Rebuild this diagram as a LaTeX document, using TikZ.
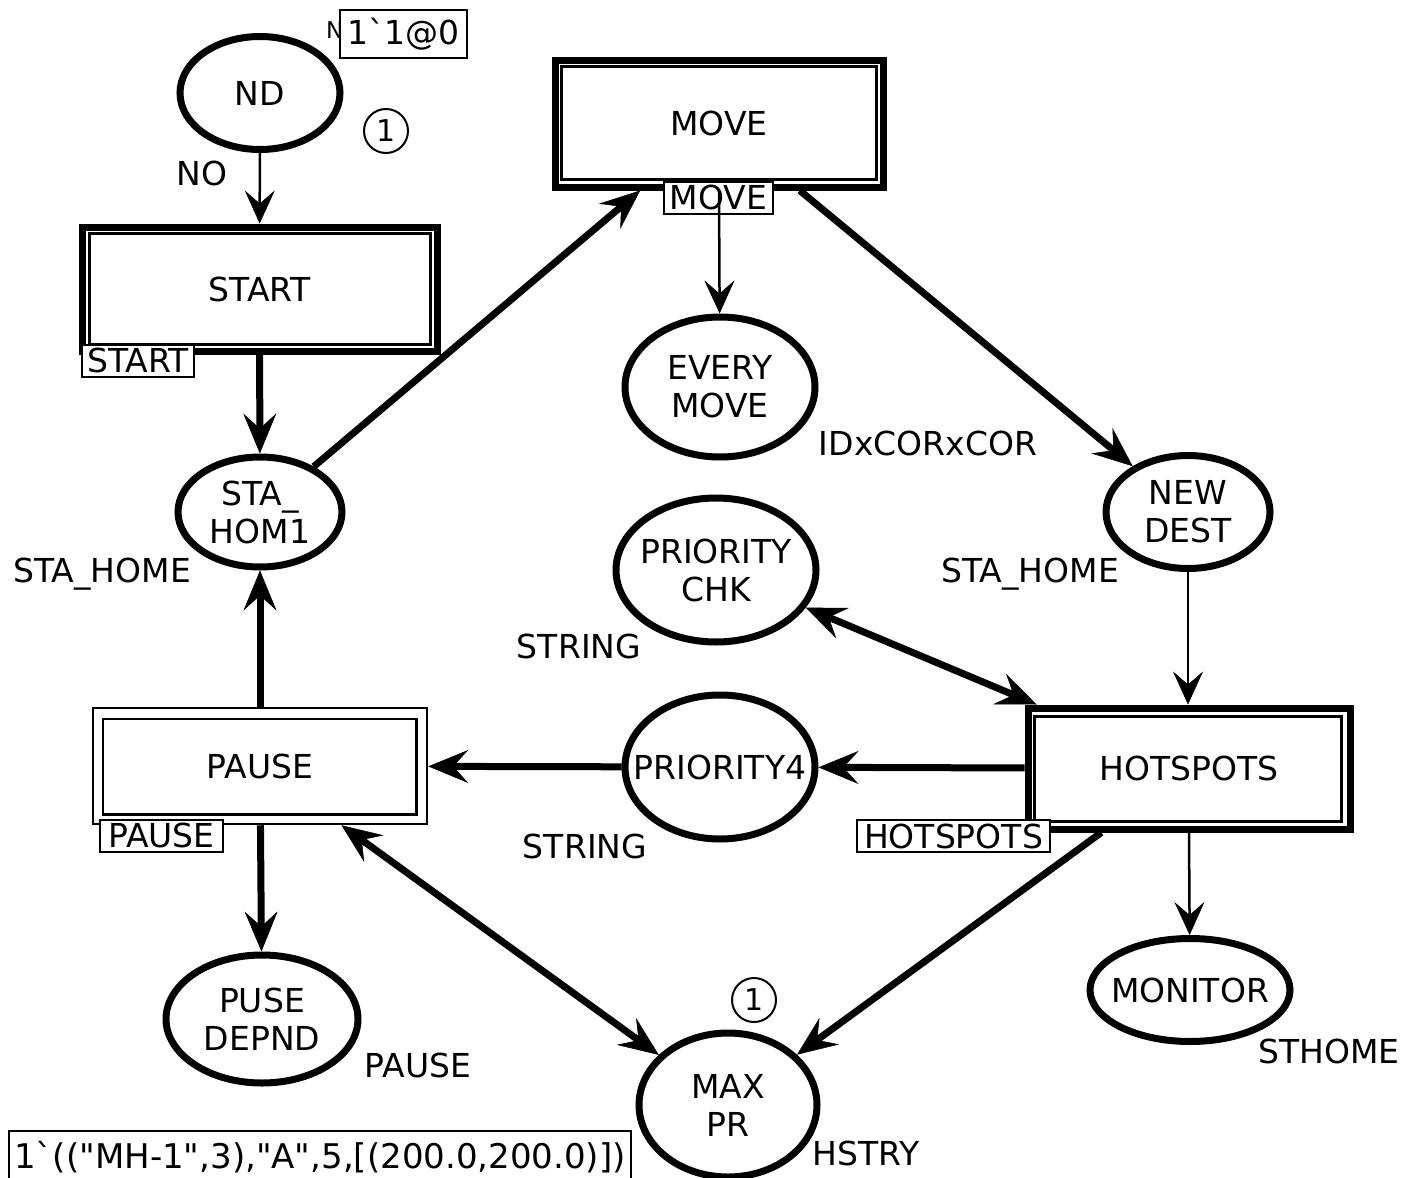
\documentclass[tikz,border=0pt]{standalone}
\usepackage{fontspec}
\newfontfamily\dv{DejaVu Sans}
\usetikzlibrary{shapes.geometric,arrows.meta}

\tikzset{
  txt/.style={font=\dv\fontsize{33}{38}\selectfont, inner sep=0pt, align=center},
  place/.style={ellipse, draw, line width=7pt, inner sep=0pt,
                label={[txt]center:#1}},
  transbold/.style={txt, rectangle, draw, line width=7pt},
  transthin/.style={txt, rectangle, draw, line width=2.5pt},
  innerbox/.style={line width=2.5pt},
  tag/.style={txt, rectangle, draw, fill=white, line width=2pt, minimum height=32pt},
  token/.style={circle, draw, line width=2pt, minimum size=44pt, inner sep=0pt,
                font=\dv\fontsize{30}{30}\selectfont},
  bighead/.tip={Stealth[length=40pt,width=33pt,inset=15pt,line width=0.5pt]},
  smallhead/.tip={Stealth[length=33pt,width=30pt,inset=13pt,line width=0.5pt]},
  thickarc/.style={line width=7pt, -bighead},
  thickboth/.style={line width=7pt, bighead-bighead},
  thinarc/.style={line width=2.5pt, -smallhead},
}

\begin{document}
\begin{tikzpicture}[x=1pt,y=-1pt]
\useasboundingbox (0,0) rectangle (1414,1178);

% places
\node[place={ND}, minimum width=160pt, minimum height=113pt] (nd) at (260,93) {};
\node[place={STA\_\\HOM1}, minimum width=164pt, minimum height=110pt] (sta) at (260,512) {};
\node[place={EVERY\\MOVE}, minimum width=190pt, minimum height=140pt] (every) at (720,387) {};
\node[place={NEW\\DEST}, minimum width=164pt, minimum height=113pt] (newdest) at (1188,512) {};
\node[place={PRIORITY\\CHK}, minimum width=200pt, minimum height=144pt] (pchk) at (716,570) {};
\node[place={PRIORITY4}, minimum width=190pt, minimum height=144pt] (p4) at (720,767) {};
\node[place={PUSE\\DEPND}, minimum width=192pt, minimum height=128pt] (puse) at (262,1019) {};
\node[place={MAX\\PR}, minimum width=178pt, minimum height=144pt] (maxpr) at (728,1105) {};
\node[place={MONITOR}, minimum width=200pt, minimum height=103pt] (monitor) at (1190,990) {};

% transitions
\node[transbold, minimum width=355pt, minimum height=124pt] (start) at (259.5,289) {START};
\draw[innerbox] ([shift={(11,10)}]start.north west) rectangle ([shift={(-10,-10)}]start.south east);
\node[transbold, minimum width=328pt, minimum height=127pt] (move) at (719,123.5) {MOVE};
\draw[innerbox] ([shift={(10,10)}]move.north west) rectangle ([shift={(-10,-11)}]move.south east);
\node[transbold, minimum width=322pt, minimum height=121pt] (hot) at (1189,768.5) {HOTSPOTS};
\draw[innerbox] ([shift={(10,12)}]hot.north west) rectangle ([shift={(-12,-11)}]hot.south east);
\node[transthin, minimum width=334pt, minimum height=116pt] (pause) at (260,766) {PAUSE};
\draw[innerbox] ([shift={(11,12)}]pause.north west) rectangle ([shift={(-12,-11)}]pause.south east);

% substitution tags
\node[tag, minimum width=112pt] (starttag) at (138,360.5) {START};
\node[tag, minimum width=109pt] (movetag) at (718.5,197.5) {MOVE};
\node[tag, minimum width=123pt] (pausetag) at (161.5,835.5) {PAUSE};
\node[tag, minimum width=193pt] (hottag) at (953.5,836) {HOTSPOTS};

% initial marking of ND
\node[anchor=base west, inner sep=0pt, font=\dv\fontsize{23}{23}\selectfont] (nlab) at (326,38) {N};
\node[tag, minimum width=127pt, minimum height=48pt] (ndinit) at (403.5,34) {1`1@0};
\node[token] (ndtok) at (386,131) {1};

% arcs
\draw[thinarc] (nd) -- (start);
\draw[thickarc] (start) -- (sta);
\draw[thickarc] (sta) -- (move);
\draw[thinarc] (move.south) -- (every);
\draw[thickarc] (move) -- (newdest);
\draw[thinarc] (newdest.south) -- (newdest.south |- hot.north);
\draw[thickboth] (pchk) -- (hot);
\draw[thickarc] (hot) -- (p4);
\draw[thickarc] (p4) -- (pause);
\draw[thickarc] (pause) -- (sta);
\draw[thickarc] (pause) -- (puse);
\draw[thickboth] (pause) -- (maxpr);
\draw[thickarc] (hot) -- (maxpr);
\draw[thinarc] (hot.south) -- (monitor);

% colour sets and inscriptions
\node[txt] (lno) at (202,173) {NO};
\node[txt] (lsta1) at (102,574) {STA\_HOME};
\node[txt] (lid) at (928,443) {IDxCORxCOR};
\node[txt] (lsta2) at (1030,574) {STA\_HOME};
\node[txt] (lstr1) at (579,646) {STRING};
\node[txt] (lstr2) at (585,846) {STRING};
\node[txt] (lpause) at (418,1065) {PAUSE};
\node[txt] (lhst) at (866,1153) {HSTRY};
\node[txt] (lsth) at (1329,1051) {STHOME};

% initial marking of MAX PR
\node[token] (maxtok) at (754,1000) {1};
\node[tag, minimum width=622pt, minimum height=52pt, anchor=north west,
      font=\dv\fontsize{34}{38}\selectfont] (maxinit) at (8,1130)
  {1`(("MH-1",3),"A",5,[(200.0,200.0)])};
\end{tikzpicture}
\end{document}
